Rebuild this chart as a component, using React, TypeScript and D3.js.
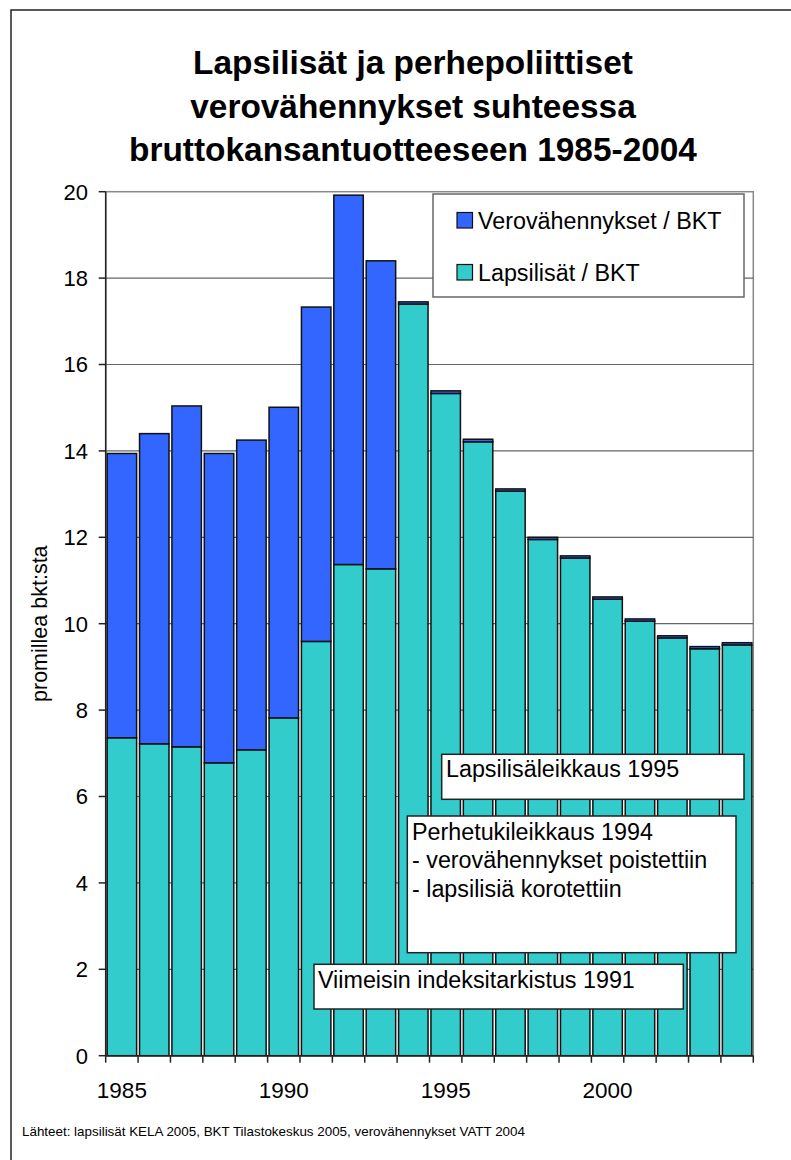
import React from "react";
import * as d3 from "d3";

const years = [1985,1986,1987,1988,1989,1990,1991,1992,1993,1994,1995,1996,1997,1998,1999,2000,2001,2002,2003,2004];
const lapsilisat = [7.36,7.22,7.15,6.78,7.08,7.82,9.59,11.37,11.27,17.40,15.33,14.21,13.07,11.95,11.52,10.57,10.06,9.67,9.42,9.51];
const verovahennykset = [6.58,7.18,7.89,7.16,7.17,7.19,7.74,8.55,7.13,0.05,0.06,0.06,0.05,0.05,0.05,0.05,0.05,0.05,0.05,0.05];
const yTicks = [0,2,4,6,8,10,12,14,16,18,20];
const xLabels = [1985,1990,1995,2000];
const titleLines = ["Lapsilisät ja perhepoliittiset","verovähennykset suhteessa","bruttokansantuotteeseen 1985-2004"];
const legendItems = ["Verovähennykset / BKT","Lapsilisät / BKT"];
const colors = ["#3366FF","#33CCCC"];

const W = 791, H = 1160;
const plot = { left: 105.7, right: 753.3, top: 191.7, bottom: 1055.7 };
const font = "'Liberation Sans', Arial, Helvetica, sans-serif";
const annFont = 23.3;

export default function App() {
  const x = d3.scaleBand<number>().domain(years).range([plot.left, plot.right]).paddingInner(0.09).paddingOuter(0.045);
  const y = d3.scaleLinear().domain([0, 20]).range([plot.bottom, plot.top]);
  const stacked = years.map((yr, i) => ({ yr, l: lapsilisat[i], v: verovahennykset[i] }));
  const boundaries = d3.range(years.length + 1).map(i => plot.left + i * (plot.right - plot.left) / years.length);

  return (
    <svg width={W} height={H} style={{ position: "absolute", left: 0, top: 0, background: "#fff" }} fontFamily={font}>
      <rect x={11} y={10} width={W + 20} height={H + 20} fill="#fff" stroke="#222" strokeWidth={1.5} />
      {titleLines.map((t, i) => (
        <text key={i} x={413} y={74 + i * 43.5} textAnchor="middle" fontSize={33.4} fontWeight="bold" fill="#000">{t}</text>
      ))}
      {/* plot area border */}
      <rect x={plot.left} y={plot.top} width={plot.right - plot.left} height={plot.bottom - plot.top} fill="#fff" stroke="#888" strokeWidth={1.5} />
      {yTicks.filter(t => t > 0 && t < 20).map(t => (
        <line key={t} x1={plot.left} x2={plot.right} y1={y(t)} y2={y(t)} stroke="#666" strokeWidth={1.2} />
      ))}
      {stacked.map(d => (
        <g key={d.yr}>
          <rect x={x(d.yr)} y={y(d.l)} width={x.bandwidth()} height={y(0) - y(d.l)} fill={colors[1]} stroke="#111" strokeWidth={1.5} />
          <rect x={x(d.yr)} y={y(d.l + d.v)} width={x.bandwidth()} height={y(d.l) - y(d.l + d.v)} fill={colors[0]} stroke="#111" strokeWidth={1.5} />
        </g>
      ))}
      {/* axes */}
      <line x1={plot.left} x2={plot.left} y1={plot.top} y2={plot.bottom} stroke="#222" strokeWidth={1.5} />
      <line x1={plot.left} x2={plot.right} y1={plot.bottom} y2={plot.bottom} stroke="#222" strokeWidth={1.5} />
      {yTicks.map(t => (
        <g key={t}>
          <line x1={plot.left - 7} x2={plot.left} y1={y(t)} y2={y(t)} stroke="#222" strokeWidth={1.5} />
          <text x={88} y={y(t)} dy="0.36em" textAnchor="end" fontSize={22}>{t}</text>
        </g>
      ))}
      {boundaries.map((b, i) => (
        <line key={i} x1={b} x2={b} y1={plot.bottom} y2={plot.bottom + 7} stroke="#222" strokeWidth={1.5} />
      ))}
      {xLabels.map(yr => (
        <text key={yr} x={(x(yr) as number) + x.bandwidth() / 2} y={1098} textAnchor="middle" fontSize={22.5}>{yr}</text>
      ))}
      <text transform={`translate(47, ${(plot.top + plot.bottom) / 2}) rotate(-90)`} textAnchor="middle" fontSize={21.5}>promillea bkt:sta</text>
      {/* legend */}
      <rect x={433} y={194} width={311} height={103} fill="#fff" stroke="#666" strokeWidth={1.5} />
      {legendItems.map((t, i) => (
        <g key={t}>
          <rect x={457} y={212.5 + i * 52} width={15.5} height={15.5} fill={colors[i]} stroke="#111" strokeWidth={1.2} />
          <text x={478} y={229 + i * 52} fontSize={annFont}>{t}</text>
        </g>
      ))}
      {/* annotations */}
      <rect x={441.7} y={754.3} width={302.3} height={45} fill="#fff" stroke="#222" strokeWidth={1.5} />
      <text x={446} y={777} fontSize={annFont}>Lapsilisäleikkaus 1995</text>
      <rect x={407.3} y={816} width={328.7} height={136.7} fill="#fff" stroke="#222" strokeWidth={1.5} />
      <text x={412} y={840} fontSize={annFont}>Perhetukileikkaus 1994</text>
      <text x={412} y={868} fontSize={annFont}>- verovähennykset poistettiin</text>
      <text x={412} y={896.5} fontSize={annFont}>- lapsilisiä korotettiin</text>
      <rect x={314} y={964.3} width={369.3} height={44.7} fill="#fff" stroke="#222" strokeWidth={1.5} />
      <text x={318} y={987.5} fontSize={annFont}>Viimeisin indeksitarkistus 1991</text>
      <text x={22} y={1136} fontSize={13.4}>Lähteet: lapsilisät KELA 2005, BKT Tilastokeskus 2005, verovähennykset VATT 2004</text>
    </svg>
  );
}
